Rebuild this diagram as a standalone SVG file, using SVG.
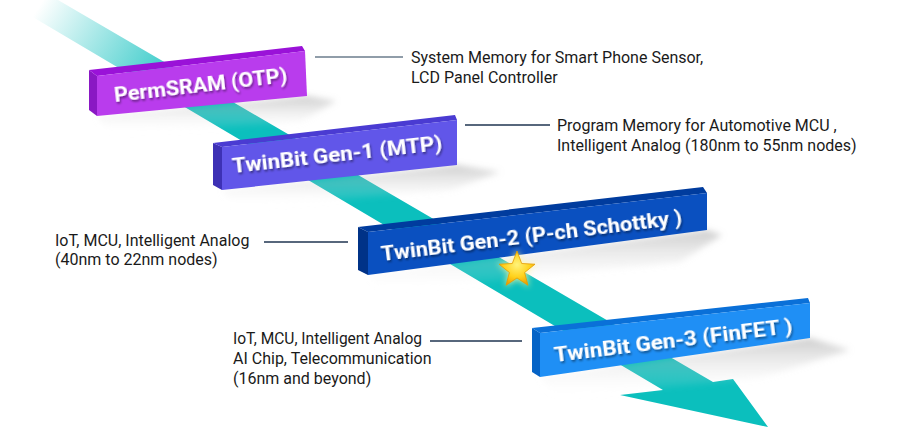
<svg xmlns="http://www.w3.org/2000/svg" width="900" height="440" viewBox="0 0 900 440">
<style>
.desc{font-family:Roboto,"Liberation Sans",sans-serif;font-size:16px;fill:#1a1a1a}
.title{font-family:Roboto,"Liberation Sans",sans-serif;font-size:21px;font-weight:700;fill:#ffffff}
.lead1{stroke:#6b7c8c;stroke-width:1.3}
.lead{stroke:#1f3550;stroke-width:1.3}
.shadow{fill:url(#shGrad);filter:url(#blur)}
</style>
<defs>
<linearGradient id="bandGrad" gradientUnits="userSpaceOnUse" x1="40" y1="5" x2="190" y2="100">
<stop offset="0" stop-color="#0bbfbd" stop-opacity="0"/>
<stop offset="1" stop-color="#0bbfbd" stop-opacity="1"/>
</linearGradient>
<linearGradient id="shGrad" x1="0" y1="0" x2="0" y2="1">
<stop offset="0" stop-color="#9a9a9a" stop-opacity="0.5"/>
<stop offset="1" stop-color="#ffffff" stop-opacity="0"/>
</linearGradient>
<radialGradient id="starGrad" cx="0.5" cy="0.4" r="0.6">
<stop offset="0" stop-color="#fff37a"/>
<stop offset="0.6" stop-color="#ffd21c"/>
<stop offset="1" stop-color="#f0a000"/>
</radialGradient>
<filter id="blur" x="-20%" y="-50%" width="140%" height="200%"><feGaussianBlur stdDeviation="3"/></filter>
<filter id="glow" x="-50%" y="-50%" width="200%" height="200%"><feGaussianBlur stdDeviation="3"/></filter>
<filter id="tshadow" x="-10%" y="-30%" width="120%" height="160%"><feDropShadow dx="1" dy="2" stdDeviation="1" flood-color="#000" flood-opacity="0.45"/></filter>
</defs>

<g id="timeline-arrow">
<polygon points="4,0 58,0 713,382 733,379 768,427 620,395 663,390" fill="url(#bandGrad)"/>
</g>

<g id="shadows">
<polygon class="shadow" points="97,116 307,96 336,101 300,122 110,134"/>
<polygon class="shadow" points="222,190 457,165 500,172 450,190 235,208"/>
<polygon class="shadow" points="368,275 707,230 722,235 680,262 385,292"/>
<polygon class="shadow" points="540,377 810,338 850,350 760,378 555,398"/>
</g>

<g id="connectors">
<line class="lead1" x1="315" y1="57" x2="403" y2="57"/>
<line class="lead" x1="465" y1="125" x2="550" y2="125"/>
<line class="lead" x1="264" y1="242" x2="348" y2="242"/>
<line class="lead" x1="430" y1="341" x2="522" y2="341"/>
</g>

<g id="node-permsram">
<polygon points="89,70 97,76 97,116 89,110" fill="#8a18c4"/>
<polygon points="89,70 302,46 305,51 97,76" fill="#9a12d8"/>
<polygon points="97,76 305,51 307,96 97,116" fill="#b93ced"/>
<text class="title" filter="url(#tshadow)" transform="translate(115,102) rotate(-6.6)" textLength="174" lengthAdjust="spacingAndGlyphs">PermSRAM (OTP)</text>
</g>

<g id="node-gen1">
<polygon points="213,143 222,147 222,190 213,185" fill="#3d31b5"/>
<polygon points="213,143 455,115 457,120 222,147" fill="#4a3bd2"/>
<polygon points="222,147 457,120 457,165 222,190" fill="#6156e9"/>
<text class="title" filter="url(#tshadow)" transform="translate(233,173) rotate(-6.3)" textLength="211" lengthAdjust="spacingAndGlyphs">TwinBit Gen-1 (MTP)</text>
</g>

<g id="node-gen2">
<polygon points="358,227 368,232 368,275 358,270" fill="#003287"/>
<polygon points="358,227 703,187 707,193 368,232" fill="#003c9e"/>
<polygon points="368,232 707,193 707,230 368,275" fill="#0a50c0"/>
<text class="title" filter="url(#tshadow)" transform="translate(382,261) rotate(-7)" textLength="303" lengthAdjust="spacingAndGlyphs">TwinBit Gen-2 (P-ch Schottky )</text>
</g>

<g id="node-gen3">
<polygon points="532,328 540,333 540,377 532,372" fill="#0563c6"/>
<polygon points="532,328 808,298 810,303 540,333" fill="#0a70d8"/>
<polygon points="540,333 810,303 810,338 540,377" fill="#1f8ff5"/>
<text class="title" filter="url(#tshadow)" transform="translate(555,362) rotate(-7)" textLength="240" lengthAdjust="spacingAndGlyphs">TwinBit Gen-3 (FinFET )</text>
</g>

<g id="star">
<polygon points="517,249 522.3,262.7 537,263.5 525.6,272.8 529.3,287 517,279 504.7,287 508.4,272.8 497,263.5 511.7,262.7" fill="#fff7a0" opacity="0.8" filter="url(#glow)"/>
<polygon points="517,251 521.7,263.5 535,264.2 524.6,272.5 528,285.3 517,278 506,285.3 509.4,272.5 499,264.2 512.3,263.5" fill="url(#starGrad)" stroke="#e49a00" stroke-width="0.8"/>
</g>

<g id="labels">
<text class="desc" x="411" y="63">System Memory for Smart Phone Sensor,</text>
<text class="desc" x="411" y="83">LCD Panel Controller</text>
<text class="desc" x="557" y="131">Program Memory for Automotive MCU ,</text>
<text class="desc" x="557" y="151">Intelligent Analog (180nm to 55nm nodes)</text>
<text class="desc" x="55" y="246">IoT, MCU, Intelligent Analog</text>
<text class="desc" x="55" y="265">(40nm to 22nm nodes)</text>
<text class="desc" x="233" y="344" textLength="189" lengthAdjust="spacingAndGlyphs">IoT, MCU, Intelligent Analog</text>
<text class="desc" x="233" y="364">AI Chip, Telecommunication</text>
<text class="desc" x="233" y="384">(16nm and beyond)</text>
</g>
</svg>
